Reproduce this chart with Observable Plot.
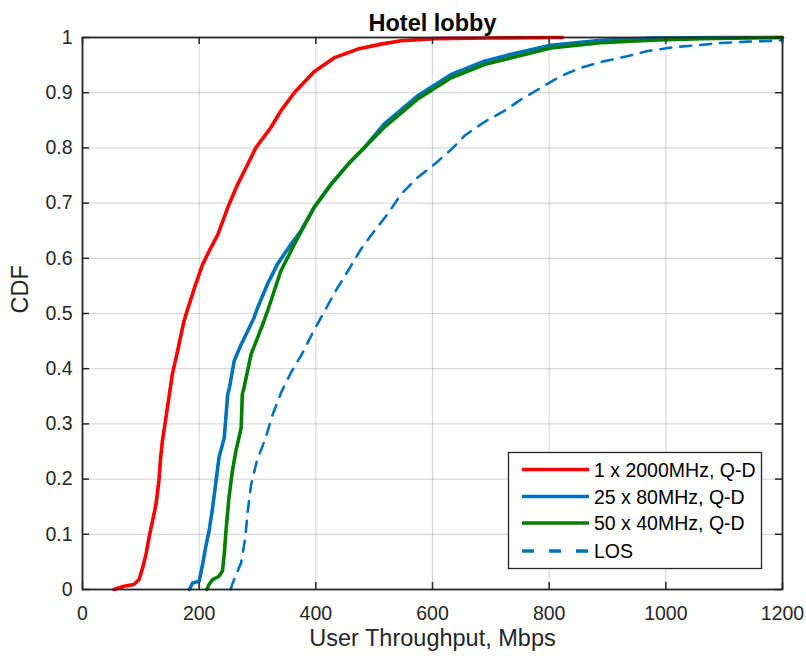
<!DOCTYPE html>
<html>
<head>
<meta charset="utf-8">
<script src="https://cdn.jsdelivr.net/npm/d3@7"></script>
<script src="https://cdn.jsdelivr.net/npm/@observablehq/plot@0.6"></script>
<style>
  html, body { margin: 0; padding: 0; background: #fff; }
  #chart svg { display: block; }
</style>
</head>
<body>
<div id="chart"></div>
<script>
// ---------- data ----------
const titleText = "Hotel lobby";
const xLabel = "User Throughput, Mbps";
const yLabel = "CDF";
const xTicks = [0, 200, 400, 600, 800, 1000, 1200];
const yTicks = [0, 0.1, 0.2, 0.3, 0.4, 0.5, 0.6, 0.7, 0.8, 0.9, 1];

const seriesNames = ["1 x 2000MHz, Q-D", "25 x 80MHz, Q-D", "50 x 40MHz, Q-D", "LOS"];
const seriesColors = ["#FF0000", "#0072BD", "#008000", "#0072BD"];

// [throughput (Mbps), CDF]
const red2000 = [
  [54, 0], [71, 0.006], [88, 0.009], [97, 0.018], [103, 0.039], [109, 0.064],
  [114, 0.094], [120, 0.124], [126, 0.154], [131, 0.197], [134, 0.239],
  [137, 0.269], [143, 0.311], [149, 0.354], [154, 0.39], [163, 0.432],
  [169, 0.462], [174, 0.486], [180, 0.507], [194, 0.553], [206, 0.589],
  [217, 0.613], [232, 0.643], [249, 0.692], [266, 0.734], [283, 0.77],
  [297, 0.8], [323, 0.837], [340, 0.867], [363, 0.9], [397, 0.938],
  [431, 0.963], [472, 0.979], [512, 0.988], [546, 0.994], [603, 0.998],
  [700, 0.999], [823, 1]
];
const blue80 = [
  [183, 0], [189, 0.012], [200, 0.015], [206, 0.046], [211, 0.076],
  [217, 0.106], [223, 0.148], [229, 0.197], [234, 0.239], [243, 0.275],
  [249, 0.354], [252, 0.366], [260, 0.414], [272, 0.444], [283, 0.468],
  [294, 0.492], [300, 0.51], [317, 0.553], [334, 0.589], [357, 0.625],
  [374, 0.649], [397, 0.692], [426, 0.734], [455, 0.77], [483, 0.8],
  [517, 0.843], [574, 0.894], [632, 0.933], [689, 0.957], [746, 0.9725],
  [803, 0.986], [889, 0.995], [975, 0.999], [1100, 1], [1200, 1]
];
const green40 = [
  [213, 0], [217, 0.009], [223, 0.018], [234, 0.024], [240, 0.034],
  [243, 0.064], [246, 0.106], [251, 0.166], [257, 0.215], [263, 0.251],
  [272, 0.293], [274, 0.354], [277, 0.366], [289, 0.426], [300, 0.456],
  [311, 0.486], [319, 0.51], [340, 0.577], [363, 0.625],
  [397, 0.692], [426, 0.734], [460, 0.776], [517, 0.837], [574, 0.888],
  [632, 0.927], [689, 0.951], [746, 0.966], [803, 0.981], [889, 0.9906],
  [975, 0.995], [1060, 0.998], [1200, 1]
];
const los = [
  [254, 0], [257, 0.0105], [272, 0.049], [279, 0.093], [283, 0.139],
  [289, 0.19], [299, 0.233], [314, 0.275], [326, 0.317], [341, 0.358],
  [358, 0.394], [377, 0.428], [396, 0.468], [417, 0.508], [434, 0.541],
  [455, 0.577], [477, 0.616], [500, 0.649], [523, 0.68], [546, 0.716],
  [574, 0.746], [603, 0.77], [632, 0.797], [656, 0.823], [689, 0.847],
  [723, 0.867], [752, 0.888], [786, 0.909], [820, 0.93], [854, 0.945],
  [894, 0.957], [934, 0.966], [969, 0.9755], [1014, 0.9825], [1054, 0.986],
  [1094, 0.99], [1140, 0.9925], [1186, 0.994], [1200, 0.995]
];

// ---------- chart ----------
const FONT = "'Liberation Sans', Arial, Helvetica, sans-serif";
const INK = "#262626";
const tickLenY = 0.0127;   // ~7px in y units
const tickLenX = 12;       // ~7px in x units

const chart = Plot.plot({
  width: 806,
  height: 661,
  marginLeft: 82,
  marginRight: 24,
  marginTop: 37,
  marginBottom: 72,
  style: { fontFamily: FONT, color: INK, background: "#fff" },
  x: { domain: [0, 1200] },
  y: { domain: [0, 1] },
  marks: [
    Plot.gridX(xTicks, { stroke: "#000", strokeOpacity: 0.15, strokeWidth: 1.2 }),
    Plot.gridY(yTicks, { stroke: "#000", strokeOpacity: 0.15, strokeWidth: 1.2 }),
    Plot.axisX(xTicks, { tickSize: 0, tickPadding: 17, fontSize: 19.5, tickFormat: d => String(d), label: null, fill: INK }),
    Plot.axisY(yTicks, { tickSize: 0, tickPadding: 10, fontSize: 19.5, tickFormat: d => String(d), label: null, fill: INK }),
    Plot.line(red2000, { stroke: seriesColors[0], strokeWidth: 3.6, strokeLinejoin: "round" }),
    Plot.line(blue80, { stroke: seriesColors[1], strokeWidth: 3.6, strokeLinejoin: "round" }),
    Plot.line(green40, { stroke: seriesColors[2], strokeWidth: 3.6, strokeLinejoin: "round" }),
    Plot.line(los, { stroke: seriesColors[3], strokeWidth: 2.6, strokeDasharray: "11,9" }),
    // inward ticks on all four sides
    Plot.ruleX(xTicks, { x: d => d, y1: 0, y2: tickLenY, stroke: INK, strokeWidth: 1.5 }),
    Plot.ruleX(xTicks, { x: d => d, y1: 1, y2: 1 - tickLenY, stroke: INK, strokeWidth: 1.5 }),
    Plot.ruleY(yTicks, { y: d => d, x1: 0, x2: tickLenX, stroke: INK, strokeWidth: 1.5 }),
    Plot.ruleY(yTicks, { y: d => d, x1: 1200, x2: 1200 - tickLenX, stroke: INK, strokeWidth: 1.5 }),
    Plot.frame({ stroke: INK, strokeWidth: 1.8 }),
    // title and axis labels
    Plot.text([titleText], { frameAnchor: "top", dy: -23, fontSize: 23.5, fontWeight: "bold", fill: "#000" }),
    Plot.text([xLabel], { frameAnchor: "bottom", dy: 56, fontSize: 23.5, fill: INK }),
    Plot.text([yLabel], { frameAnchor: "left", dx: -62, rotate: -90, fontSize: 23.5, fill: INK })
  ]
});

document.getElementById("chart").appendChild(chart);

// ---------- legend (inside the plot, lower right) ----------
const svg = d3.select(chart);
const lg = svg.append("g")
  .attr("font-family", FONT)
  .attr("font-size", 19.5)
  .attr("text-anchor", "start");
const box = { x: 508.5, y: 452.5, w: 253, h: 116 };
lg.append("rect")
  .attr("x", box.x).attr("y", box.y).attr("width", box.w).attr("height", box.h)
  .attr("fill", "#fff").attr("stroke", INK).attr("stroke-width", 1.3);
const rowY = [469.5, 496.5, 523, 551];
seriesNames.forEach((name, i) => {
  lg.append("line")
    .attr("x1", 522).attr("x2", 589).attr("y1", rowY[i]).attr("y2", rowY[i])
    .attr("stroke", seriesColors[i]).attr("stroke-width", 3.6)
    .attr("stroke-dasharray", name === "LOS" ? "12,15" : null);
  lg.append("text")
    .attr("x", 594).attr("y", rowY[i]).attr("dy", "0.36em")
    .attr("text-anchor", "start")
    .attr("fill", "#000").text(name);
});
</script>
</body>
</html>
